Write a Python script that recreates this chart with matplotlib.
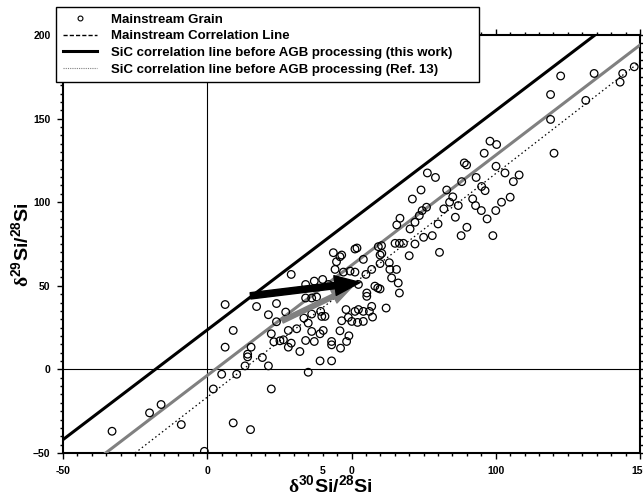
import matplotlib.pyplot as plt
from matplotlib.lines import Line2D

plt.rcParams['font.family'] = 'Liberation Sans'
plt.rcParams['font.weight'] = 'bold'
plt.rcParams['mathtext.fontset'] = 'custom'
plt.rcParams['mathtext.rm'] = 'Liberation Serif'
plt.rcParams['mathtext.bf'] = 'Liberation Sans:bold'

# mainstream grains (delta30Si, delta29Si)
grain_x = [-33, -9, -1, 9, 15, -20, -16,
           6.2, 9.0, 6.2, 2.1, 5.0, 10.2, 13.1, 14.0, 14.0, 15.2, 17.1, 19.1, 21.2, 21.2,
           22.2, 22.2, 24.0, 24.0, 23.1, 25.2, 26.4, 27.2, 28.1, 28.1, 29.1, 29.1, 31.0,
           32.1, 33.5, 34.1, 34.1, 34.1, 35.0, 35.0, 36.2, 36.2, 36.2, 37.1, 37.1, 37.9,
           39.1, 39.1, 39.3, 39.7, 40.2, 40.0, 40.8, 42.0, 43.1, 43.1, 43.1, 43.7, 44.3,
           44.8, 46.0, 46.6, 46.0, 46.2, 46.6, 47.2, 48.1, 48.3, 48.9, 49.1, 50.1, 49.5,
           51.2, 51.2, 52.1, 52.4, 52.4, 54.1, 54.1, 54.1, 55.0, 55.3, 55.3, 56.2, 57.0,
           57.0, 57.3, 58.1, 59.1, 59.9, 59.9, 62.0, 63.1, 63.3, 63.9, 65.6, 66.2, 66.6,
           51.2, 51.9, 59.3, 60.4, 60.5, 59.9, 65.1, 66.6, 68.0, 65.7, 66.8,
           70.3, 72, 73.5, 74.5, 76, 78, 80, 80.5, 82, 84, 86, 87, 88, 90, 92, 93, 95,
           97, 99, 100, 102, 105, 70, 72, 75,
           122.5, 134.1, 119.0, 119.0, 120.2, 131.2, 144.0, 143.1, 148.0, 98.0, 100.3,
           96.0, 89.1, 89.9, 100.1, 76.3, 79.1, 93.2, 88.2, 103.2, 106.1, 108.1, 95.1,
           96.3, 83.0, 74.1, 85.1, 71.1]
grain_y = [-37, -33, -49, -32, -36, -26, -21,
           38.8, 23.3, 13.3, -11.7, -2.9, -2.9, 2.1, 9.1, 7.5, 13.3, 37.6, 7.1, 2.1, 32.7,
           -11.7, 21.3, 39.4, 28.5, 16.5, 17.1, 17.7, 34.3, 23.3, 13.3, 56.8, 15.7, 24.3,
           10.7, 30.7, 50.8, 17.3, 42.7, -1.7, 27.7, 42.7, 33.1, 22.7, 52.8, 16.7, 43.3,
           5.1, 21.3, 34.7, 31.7, 23.3, 53.8, 31.7, 50.8, 16.7, 14.7, 5.1, 69.8, 59.8,
           64.4, 67.4, 68.4, 23.1, 12.7, 29.1, 58.2, 35.8, 16.7, 31.1, 20.1, 28.7, 58.8,
           34.7, 58.2, 28.1, 35.8, 50.8, 65.8, 28.7, 34.7, 56.8, 45.7, 43.7, 34.7, 37.7,
           59.8, 31.3, 49.8, 48.7, 48.1, 68.4, 36.7, 63.8, 59.8, 54.7, 59.8, 51.7, 45.7,
           72.0, 72.6, 73.4, 74.0, 69.4, 63.3, 75.4, 75.4, 75.4, 86.4, 90.4,
           84, 88, 92, 95, 97, 80, 87, 70, 96, 100, 91, 98, 80, 85, 102, 98, 95,
           90, 80, 95, 100, 103, 68, 75, 79,
           175.5, 177, 164.4, 149.5, 129.3, 160.9, 177, 171.8, 181, 136.5, 134.5,
           129.3, 123.5, 122.3, 121.5, 117.5, 114.8, 114.8, 112.3, 117.5, 112.3, 116.3, 109.4,
           106.9, 107.3, 107.3, 103.2, 101.9]

# correlation lines, end points
this_work_x = [-50, 134.4]
this_work_y = [-42, 200]
mainstream_x = [-35.2, 150]
mainstream_y = [-50, 194]
ref13_x = [-25, 150]
ref13_y = [-50, 184]

# arrows (start, end)
black_arrow = [(15, 44), (53, 52)]
gray_arrow = [(26, 29), (50, 49)]

fig = plt.figure(figsize=(6.43, 4.99), dpi=100)
ax = fig.add_axes([63 / 643, 1 - 453 / 499, 577 / 643, 418 / 499])

ax.axhline(0, color='black', lw=0.8, zorder=1)
ax.axvline(0, color='black', lw=0.8, zorder=1)

ax.plot(this_work_x, this_work_y, color='black', lw=2.2, zorder=3)
ax.plot(mainstream_x, mainstream_y, color='#808080', lw=2.2, zorder=3)
ax.plot(ref13_x, ref13_y, color='black', lw=0.9, ls=(0, (1.2, 2.2)), zorder=3)

ax.scatter(grain_x, grain_y, s=30, facecolors='none', edgecolors='black', linewidths=0.9, zorder=4)

ax.annotate('', xy=gray_arrow[1], xytext=gray_arrow[0],
            arrowprops=dict(arrowstyle='simple,head_length=1.3,head_width=1.0,tail_width=0.3',
                            color='#808080', mutation_scale=11, shrinkA=0, shrinkB=0), zorder=5)
ax.annotate('', xy=black_arrow[1], xytext=black_arrow[0],
            arrowprops=dict(arrowstyle='simple,head_length=1.4,head_width=1.1,tail_width=0.35',
                            color='black', mutation_scale=13, shrinkA=0, shrinkB=0), zorder=5)

ax.set_xlim(-50, 150)
ax.set_ylim(-50, 200)
ax.set_xticks([-50, 0, 50, 100, 150])
ax.set_xticklabels(['-50', '0', '0', '100', '150'])
ax.set_yticks([-50, 0, 50, 100, 150, 200])
ax.set_xticks(range(-50, 151, 5), minor=True)
ax.set_yticks(range(-50, 201, 5), minor=True)
ax.tick_params(which='both', direction='out', top=True, right=True, labelsize=7.5, width=1)
ax.tick_params(which='major', length=4, pad=5)
ax.tick_params(which='minor', length=2)
for s in ax.spines.values():
    s.set_linewidth(1.5)

ax.annotate('5', xy=(40, 0), xycoords=ax.get_xaxis_transform(), xytext=(0, -9),
            textcoords='offset points', ha='center', va='top', fontsize=7.5, weight='bold')

ax.set_xlabel(r'$\mathrm{δ}^{\mathbf{30}}\mathbf{Si/}^{\mathbf{28}}\mathbf{Si}$', fontsize=14)
ax.set_ylabel(r'$\mathrm{δ}^{\mathbf{29}}\mathbf{Si/}^{\mathbf{28}}\mathbf{Si}$', fontsize=14)
ax.xaxis.set_label_coords(0.463, -0.079)
ax.xaxis.label.set_va('center')
ax.yaxis.set_label_coords(-0.071, 0.498)
ax.yaxis.label.set_va('center')

handles = [
    Line2D([], [], ls='none', marker='o', ms=3.5, mfc='none', mec='black', mew=0.8),
    Line2D([], [], color='black', lw=1, ls=(0, (3, 1.5))),
    Line2D([], [], color='black', lw=2.2),
    Line2D([], [], color='#808080', lw=0.8, ls=(0, (1, 1))),
]
labels = ['Mainstream Grain', 'Mainstream Correlation Line',
          'SiC correlation line before AGB processing (this work)',
          'SiC correlation line before AGB processing (Ref. 13)']
fig.legend(handles, labels, loc='upper left', mode='expand',
           bbox_to_anchor=(56 / 643, 1 - 82 / 499, 423 / 643, 75 / 499),
           frameon=True, fancybox=False, edgecolor='black', framealpha=1, fontsize=9.5,
           borderaxespad=0, borderpad=0.5, handlelength=2.6, handletextpad=1.1,
           labelspacing=0.33)

fig.savefig('out.png', dpi=100)
